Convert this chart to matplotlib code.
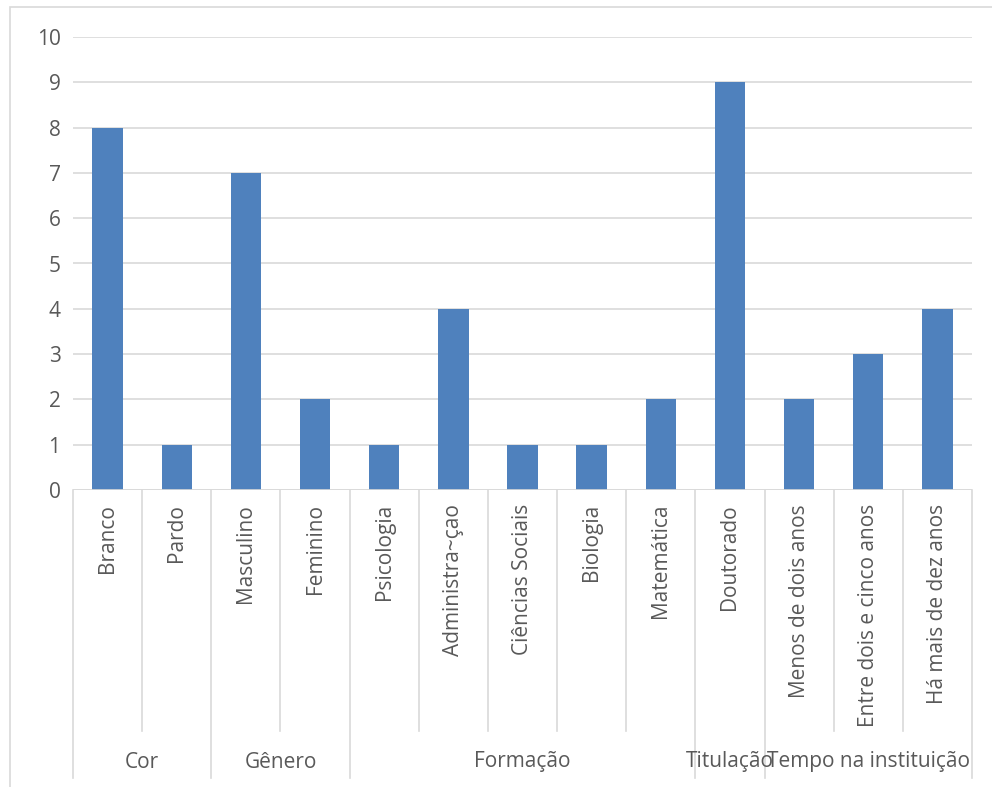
import matplotlib.pyplot as plt
from matplotlib.transforms import blended_transform_factory
import matplotlib.patches as mpatches

plt.rcParams["font.family"] = ["Open Sans", "DejaVu Sans"]

categories = [
    "Branco", "Pardo", "Masculino", "Feminino", "Psicologia",
    "Administra~çao", "Ciências Sociais", "Biologia", "Matemática",
    "Doutorado", "Menos de dois anos", "Entre dois e cinco anos",
    "Há mais de dez anos",
]
values = [8, 1, 7, 2, 1, 4, 1, 1, 2, 9, 2, 3, 4]
groups = ["Cor", "Gênero", "Formação", "Titulação", "Tempo na instituição"]
group_sizes = [2, 2, 5, 1, 3]

_text_color = "#595959"
_line_color = "#d9d9d9"
_fs = 15

fig = plt.figure(figsize=(9.92, 7.87), dpi=100)

# outer chart frame (clipped at right/bottom)
fig.patches.append(
    mpatches.Rectangle(
        (10 / 992, -0.1), 1.2, 1 - 7 / 787 + 0.1,
        transform=fig.transFigure, fill=False, edgecolor=_line_color, linewidth=1.2,
    )
)

ax = fig.add_axes([73 / 992, 1 - 490 / 787, 899 / 992, 453 / 787])

x = range(len(categories))
ax.bar(x, values, width=0.44, color="#4f81bd", zorder=3)

ax.set_xlim(-0.5, len(categories) - 0.5)
ax.set_ylim(0, 10)
ax.set_yticks(range(0, 11))
ax.tick_params(axis="y", length=0, labelsize=_fs, labelcolor=_text_color, pad=9)
ax.set_xticks([])
ax.grid(axis="y", color=_line_color, linewidth=1.2, zorder=0)
for s in ax.spines.values():
    s.set_visible(False)
ax.axhline(0, color=_line_color, linewidth=1.2, zorder=4)

trans = blended_transform_factory(ax.transData, fig.transFigure)
y0 = 1 - 490 / 787
y_inner = 1 - 731 / 787
y_outer = 1 - 778 / 787

# category labels
for i, c in enumerate(categories):
    ax.text(i, 1 - 504 / 787, c, transform=trans, rotation=90, ha="center",
            va="top", fontsize=_fs, color=_text_color)

# separators between categories and groups
bounds = [-0.5]
for n in group_sizes:
    bounds.append(bounds[-1] + n)
for i in range(len(categories) + 1):
    xb = i - 0.5
    y_end = y_outer if xb in bounds else y_inner
    ax.plot([xb, xb], [y0, y_end], transform=trans, color=_line_color,
            linewidth=1.2, clip_on=False)

# group labels
for g, lo, hi in zip(groups, bounds[:-1], bounds[1:]):
    ax.text((lo + hi) / 2, 1 - 762 / 787, g, transform=trans, ha="center",
            va="center", fontsize=_fs, color=_text_color)

plt.savefig("out.png", dpi=100)
